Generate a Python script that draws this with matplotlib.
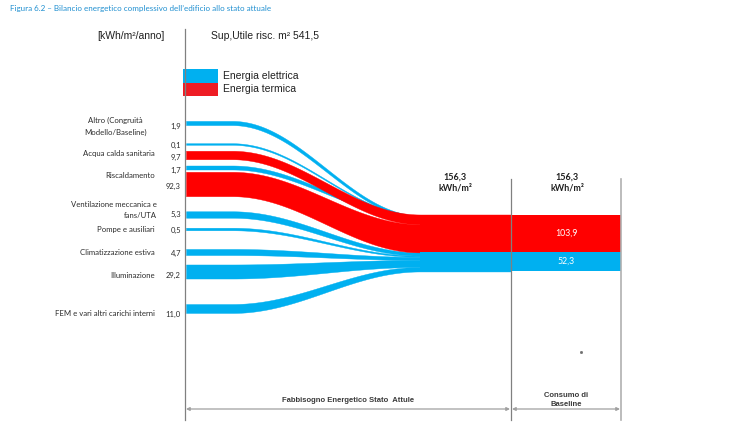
import numpy as np
import matplotlib.pyplot as plt
from matplotlib.patches import Rectangle

# Fabbisogno per uso finale [kWh/m2/anno]
usi = ["Altro (Congruità\nModello/Baseline)", "", "Acqua calda sanitaria", "", "Riscaldamento",
       "Ventilazione meccanica e\nfans/UTA", "Pompe e ausiliari", "Climatizzazione estiva",
       "Illuminazione", "FEM e vari altri carichi interni"]
valori = [1.9, 0.1, 9.7, 1.7, 92.3, 5.3, 0.5, 4.7, 29.2, 11.0]
vettore = ["el", "el", "th", "el", "th", "el", "el", "el", "el", "el"]

# Consumo di baseline per vettore
totale = 156.3
termica = 103.9
elettrica = 52.3

BLUE = "#00B0F0"
RED = "#FF0000"
GREY = "#808080"
TXT = "#2b2b2b"
CAL = ["Lato", "DejaVu Sans"]
ARIAL = ["Liberation Sans", "DejaVu Sans"]
COLORS = {"el": BLUE, "th": RED}

def fmt(v):
    return f"{v:.1f}".replace(".", ",")

# layout (pixel space)
row_y = [124, 145, 156, 168.5, 185, 215.5, 230, 253, 272.5, 309.5]
label_y = [126.5, None, 154, None, 176, 210, 230, 253, 276, 314]
label_x = [147, None, 155, None, 155, 157, 155, 155, 155, 155]
value_y = [126, 145, 157, 170, 186, 214, 230, 253, 275.5, 314]
x_axis, x_mid, x_end = 185, 511, 621
x_bend0, x_bend1 = 232, 420
slot_top = 215.5
px_per_unit = 57 / totale

fig = plt.figure(figsize=(7.35, 4.27), dpi=100)
ax = fig.add_axes([0, 0, 1, 1])
ax.set_xlim(0, 735)
ax.set_ylim(427, 0)
ax.axis("off")

# slot on the right for each carrier
h_th = termica * px_per_unit
h_el = elettrica * px_per_unit
slots = {"th": (slot_top, h_th), "el": (slot_top + h_th, h_el)}

# band thickness on the left side
thick = [2.45 * np.sqrt(v) + 0.8 for v in valori]
last_th = max(i for i, c in enumerate(vettore) if c == "th")
tucked = [c == "el" and i < last_th for i, c in enumerate(vettore)]

ends = []
cursor = {g: slots[g][0] for g in slots}
for g in slots:
    idx = [i for i, c in enumerate(vettore) if c == g and not tucked[i]]
    f = slots[g][1] / sum(thick[i] for i in idx)
    for i in idx:
        ends.append((i, cursor[g], thick[i] * f))
        cursor[g] += thick[i] * f
for i in range(len(valori)):
    if tucked[i]:
        # electric flows above the thermal ones slide in behind the thermal band
        ends.append((i, slot_top + 1, thick[i] * 0.6))
ends.sort()

x = np.linspace(x_axis + 1, x_mid, 400)
s = np.clip((x - x_bend0) / (x_bend1 - x_bend0), 0, 1)
s = 0.5 - 0.5 * np.cos(np.pi * s)

bands = []
for (i, top_r, w), c, yc, t in zip(ends, vettore, row_y, thick):
    top = (yc - t / 2) + (top_r - (yc - t / 2)) * s
    bot = (yc + t / 2) + (top_r + w - (yc + t / 2)) * s
    bands.append((c, top, bot))

# electric flows first, thermal on top
for c, top, bot in sorted(bands, key=lambda b: b[0] == "th"):
    ax.fill_between(x, top, bot, facecolor=COLORS[c], edgecolor=COLORS[c], lw=0.3)

# merged flow and baseline bar
xc_bar = (x_mid + x_end) / 2
for g in ["el", "th"]:
    ax.add_patch(Rectangle((x_bend1, slots[g][0]), x_mid - x_bend1, slots[g][1],
                           facecolor=COLORS[g], lw=0))
    ax.add_patch(Rectangle((x_mid, slots[g][0]), x_end - x_mid, slots[g][1],
                           facecolor=COLORS[g], lw=0))
ax.text(xc_bar, 233, fmt(termica), color="white", ha="center", va="center",
        fontsize=6.3, family=CAL)
ax.text(xc_bar, 261, fmt(elettrica), color="white", ha="center", va="center",
        fontsize=6.3, family=CAL)

# labels on the left
for lab, v, lx, ly, vy in zip(usi, valori, label_x, label_y, value_y):
    ax.text(181, vy, fmt(v), ha="right", va="center", fontsize=5.5, family=CAL, color=TXT)
    if lab:
        ax.text(lx, ly, lab, ha="right", va="center", fontsize=5.6, family=CAL,
                color=TXT, linespacing=1.75,
                multialignment="right" if "UTA" in lab else "center")

# frame lines
ax.plot([x_axis, x_axis], [30, 421], color=GREY, lw=0.9)
ax.plot([x_mid, x_mid], [180, 421], color=GREY, lw=0.9)
ax.plot([x_end, x_end], [180, 421], color="#b0b0b0", lw=1.2)

for x0, x1 in [(x_axis, x_mid), (x_mid, x_end)]:
    ax.annotate("", xy=(x0 + 1, 410), xytext=(x1 - 1, 410),
                arrowprops=dict(arrowstyle="<|-|>", color="#a0a0a0", lw=0.9,
                                mutation_scale=5, shrinkA=0, shrinkB=0))

ax.text(348, 401, "Fabbisogno Energetico Stato  Attule", ha="center", va="center",
        fontsize=5.5, family=ARIAL, weight="bold", color="#3a3a3a")
ax.text(566, 400, "Consumo di\nBaseline", ha="center", va="center", fontsize=5.5,
        family=ARIAL, weight="bold", color="#3a3a3a", linespacing=1.35)
ax.plot([581], [353], marker="s", ms=1, color="#707070")

for xc in [455, 567]:
    ax.text(xc, 182.5, f"{fmt(totale)}\nkWh/m²", ha="center", va="center", fontsize=6.5,
            family=CAL, weight="bold", color="#202020", linespacing=1.35)

# header
ax.text(10, 9, "Figura 6.2 – Bilancio energetico complessivo dell’edificio allo stato attuale",
        ha="left", va="center", fontsize=5.8, family=CAL, color="#1F8FD0")
ax.text(97, 36, "[kWh/m²/anno]", ha="left", va="center", fontsize=7.5, family=ARIAL, color="#202020")
ax.text(211, 36, "Sup,Utile risc. m² 541,5", ha="left", va="center", fontsize=7.5,
        family=ARIAL, color="#202020")

# legend
ax.add_patch(Rectangle((183, 70), 35, 13.5, color=BLUE, lw=0))
ax.add_patch(Rectangle((183, 83.5), 35, 13.5, color="#EE1C24", lw=0))
ax.text(223, 76, "Energia elettrica", ha="left", va="center", fontsize=7.5, family=ARIAL, color="#202020")
ax.text(223, 88.5, "Energia termica", ha="left", va="center", fontsize=7.5, family=ARIAL, color="#202020")

fig.savefig("out.png", dpi=100)
